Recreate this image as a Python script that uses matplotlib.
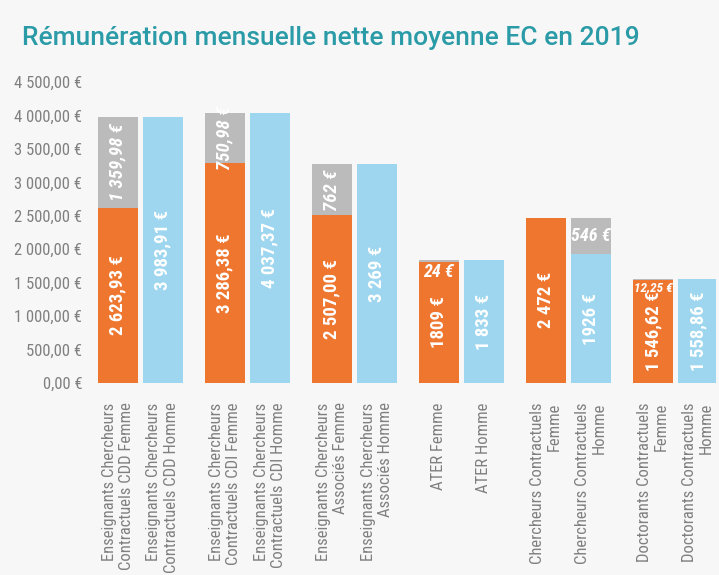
import matplotlib
matplotlib.use("Agg")
import matplotlib.pyplot as plt
import numpy as np
from matplotlib.ticker import FuncFormatter

# data
labels_femme = ["Enseignants Chercheurs\nContractuels CDD Femme",
                "Enseignants Chercheurs\nContractuels CDI Femme",
                "Enseignants Chercheurs\nAssociés Femme",
                "ATER Femme",
                "Chercheurs Contractuels\nFemme",
                "Doctorants Contractuels\nFemme"]
labels_homme = ["Enseignants Chercheurs\nContractuels CDD Homme",
                "Enseignants Chercheurs\nContractuels CDI Homme",
                "Enseignants Chercheurs\nAssociés Homme",
                "ATER Homme",
                "Chercheurs Contractuels\nHomme",
                "Doctorants Contractuels\nHomme"]
femme = [2623.93, 3286.38, 2507.00, 1809, 2472, 1546.62]
homme = [3983.91, 4037.37, 3269, 1833, 1926, 1558.86]
ecart_femme = [1359.98, 750.98, 762, 24, 0, 12.25]
ecart_homme = [0, 0, 0, 0, 546, 0]
txt_femme = ["2 623,93 €", "3 286,38 €", "2 507,00 €", "1809 €", "2 472 €", "1 546,62 €"]
txt_homme = ["3 983,91 €", "4 037,37 €", "3 269 €", "1 833 €", "1926 €", "1 558,86 €"]
txt_ecart_femme = ["1 359,98 €", "750,98 €", "762 €", "24 €", "", "12,25 €"]
txt_ecart_homme = ["", "", "", "", "546 €", ""]

ORANGE = "#ee762f"
BLUE = "#9dd6ee"
GREY = "#bbbbbb"
BG = "#f7f7f7"
NARROW = ["Roboto Condensed", "DejaVu Sans Condensed", "Liberation Sans Narrow", "DejaVu Sans"]

fig = plt.figure(figsize=(7.19, 5.75), dpi=100, facecolor=BG)
ax = fig.add_axes([0.128, 0.334, 0.868, 0.523])
ax.set_facecolor(BG)

x = np.arange(len(femme))
off, w = 0.21, 0.375
xf, xh = x - off, x + off

ax.bar(xf, femme, w, color=ORANGE)
ax.bar(xf, ecart_femme, w, bottom=femme, color=GREY)
ax.bar(xh, homme, w, color=BLUE)
ax.bar(xh, ecart_homme, w, bottom=homme, color=GREY)

lab = dict(color="white", fontweight="bold", family=NARROW, fontstretch="condensed")
for i in range(len(x)):
    ax.text(xf[i], femme[i] / 2, txt_femme[i], rotation=90, ha="center", va="center",
            fontsize=13.5, **lab)
    ax.text(xh[i], homme[i] / 2, txt_homme[i], rotation=90, ha="center", va="center",
            fontsize=13.5, **lab)
    if ecart_femme[i] > 300:
        ax.text(xf[i], femme[i] + ecart_femme[i] / 2, txt_ecart_femme[i], rotation=90,
                ha="center", va="center", style="italic", fontsize=13.5, **lab)
    elif txt_ecart_femme[i]:
        size = 13 if len(txt_ecart_femme[i]) < 6 else 9.5
        ax.annotate(txt_ecart_femme[i], (xf[i], femme[i] + ecart_femme[i]),
                    xytext=(0, -2), textcoords="offset points", ha="center", va="top",
                    style="italic", fontsize=size, **lab)
    if txt_ecart_homme[i]:
        ax.text(xh[i], homme[i] + ecart_homme[i] / 2, txt_ecart_homme[i],
                ha="center", va="center", style="italic", fontsize=13, **lab)

ax.set_xlim(-0.45, 5.38)
ax.set_ylim(0, 4500)
ax.set_yticks(np.arange(0, 4501, 500))
ax.yaxis.set_major_formatter(FuncFormatter(
    lambda v, p: f"{v:,.2f}".replace(",", " ").replace(".", ",") + " €"))

ticks = np.ravel(np.column_stack([xf, xh]))
names = [n for pair in zip(labels_femme, labels_homme) for n in pair]
ax.set_xticks(ticks)
ax.set_xticklabels(names, rotation=90, ha="center", va="top", multialignment="right")

ax.tick_params(axis="x", length=0, pad=14, labelsize=12, labelcolor="#808080")
ax.tick_params(axis="y", length=0, pad=7, labelsize=12, labelcolor="#808080")
for t in ax.get_xticklabels() + ax.get_yticklabels():
    t.set_family(NARROW)
    t.set_fontstretch("condensed")
for s in ax.spines.values():
    s.set_visible(False)

fig.text(0.030, 0.922, "Rémunération mensuelle nette moyenne EC en 2019",
         color="#2a9ba7", fontsize=19, fontweight="medium",
         family=["Roboto", "DejaVu Sans"], va="baseline")

fig.savefig("out.png", dpi=100, facecolor=BG)
